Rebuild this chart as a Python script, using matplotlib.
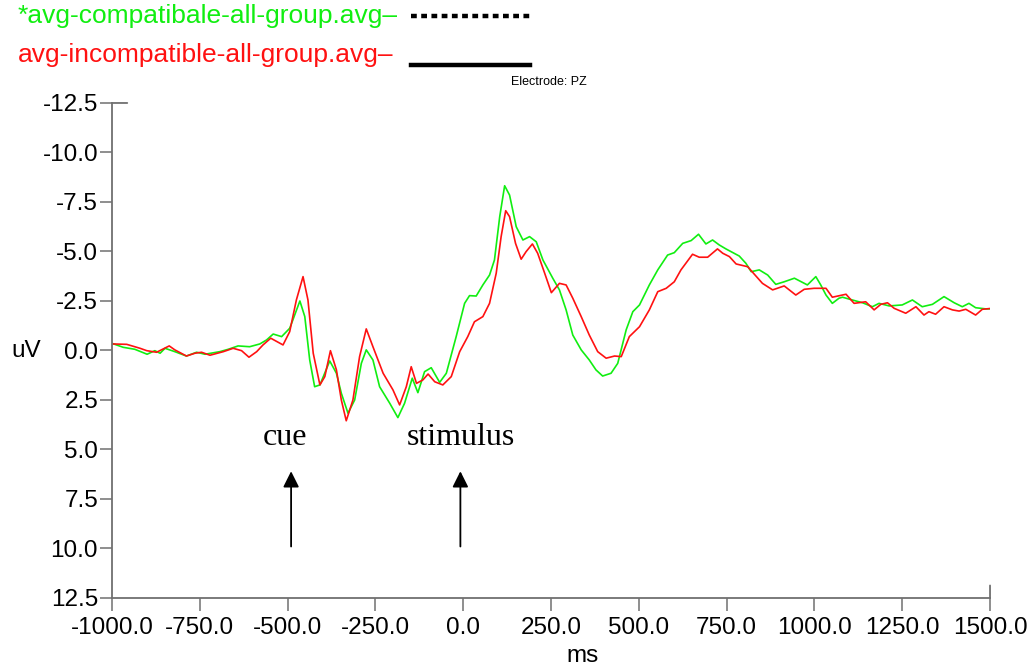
import numpy as np
import matplotlib.pyplot as plt

# ERP at electrode PZ (ms, uV)
t_incomp = [-1000, -958, -920, -901, -873, -837, -821, -788, -764, -745, -721, -683, -655, -631,
            -610, -588, -570, -548, -513, -494, -475, -456, -442, -427, -408, -394, -378, -361,
            -347, -333, -314, -295, -276, -257, -228, -200, -181, -162, -148, -133, -115, -100,
            -81, -58, -34, -10, 13, 32, 56, 75, 94, 108, 121, 132, 149, 165, 179, 197, 212, 232,
            251, 274, 293, 312, 336, 359, 383, 407, 431, 450, 473, 502, 530, 554, 578, 601, 620,
            653, 672, 696, 724, 739, 758, 777, 810, 829, 852, 881, 914, 947, 971, 999, 1033,
            1051, 1090, 1113, 1146, 1170, 1189, 1208, 1227, 1260, 1289, 1312, 1326, 1345, 1369,
            1393, 1412, 1431, 1459, 1478, 1500]
v_incomp = [-0.33, -0.31, -0.11, 0.01, 0.09, -0.23, -0.03, 0.28, 0.14, 0.09, 0.24, 0.06, -0.11,
            0.01, 0.34, 0.06, -0.28, -0.62, -0.28, -0.95, -2.55, -3.73, -2.55, 0.14, 1.74, 1.32,
            0.01, 0.98, 2.5, 3.55, 2.5, 0.31, -1.09, -0.19, 1.15, 1.99, 2.75, 1.83, 0.82, 1.66,
            1.49, 1.19, 1.58, 1.74, 1.32, 0.06, -0.70, -1.45, -1.71, -2.38, -3.90, -5.75, -7.06,
            -6.76, -5.41, -4.61, -4.99, -5.38, -4.91, -3.90, -2.92, -3.39, -3.31, -2.64, -1.71,
            -0.78, 0.06, 0.39, 0.28, 0.31, -0.70, -1.20, -2.05, -2.97, -3.14, -3.47, -4.07, -4.86,
            -4.71, -4.71, -5.13, -4.91, -4.74, -4.37, -4.23, -3.85, -3.39, -3.06, -3.26, -2.80,
            -3.09, -3.14, -3.14, -2.69, -2.84, -2.38, -2.46, -2.05, -2.33, -2.41, -2.13, -1.88,
            -2.21, -1.79, -1.96, -1.83, -2.21, -2.05, -1.99, -2.08, -1.79, -2.08, -2.12]

t_comp = [-1000, -968, -935, -900, -878, -863, -849, -821, -788, -759, -735, -693, -669, -641,
          -608, -579, -560, -541, -517, -494, -485, -465, -451, -437, -423, -408, -380, -361,
          -347, -328, -309, -290, -276, -257, -238, -209, -186, -167, -145, -129, -110, -91,
          -67, -48, -20, 4, 18, 37, 56, 75, 89, 104, 118, 132, 151, 170, 189, 208, 227, 255,
          274, 293, 312, 336, 359, 378, 397, 421, 440, 464, 483, 502, 530, 554, 582, 601, 625,
          649, 670, 691, 710, 729, 748, 786, 805, 820, 843, 867, 890, 914, 943, 980, 1004,
          1018, 1033, 1051, 1070, 1080, 1108, 1137, 1165, 1184, 1213, 1250, 1279, 1307, 1336,
          1369, 1398, 1421, 1440, 1459, 1488, 1500]
v_comp = [-0.36, -0.16, -0.06, 0.19, 0.01, 0.14, -0.11, 0.06, 0.28, 0.09, 0.19, 0.06, -0.06,
          -0.23, -0.19, -0.33, -0.53, -0.83, -0.70, -1.12, -1.54, -2.50, -1.71, 0.48, 1.83,
          1.74, 0.53, 1.15, 2.16, 3.17, 2.50, 0.65, -0.03, 0.48, 1.83, 2.67, 3.39, 2.67, 1.40,
          2.13, 1.07, 0.87, 1.61, 1.15, -0.70, -2.38, -2.77, -2.75, -3.31, -3.81, -4.57, -6.76,
          -8.32, -7.85, -6.25, -5.58, -5.75, -5.49, -4.57, -3.65, -3.06, -2.05, -0.78, -0.03,
          0.48, 0.98, 1.29, 1.15, 0.65, -1.04, -1.96, -2.30, -3.31, -4.07, -4.82, -4.94, -5.41,
          -5.55, -5.87, -5.38, -5.58, -5.33, -5.13, -4.77, -4.40, -3.98, -4.07, -3.81, -3.34,
          -3.47, -3.65, -3.31, -3.73, -3.31, -2.80, -2.38, -2.64, -2.69, -2.55, -2.41, -2.21,
          -2.38, -2.25, -2.30, -2.55, -2.21, -2.33, -2.72, -2.41, -2.21, -2.38, -2.16, -2.10, -2.10]

x_ticks = [-1000, -750, -500, -250, 0, 250, 500, 750, 1000, 1250, 1500]
y_ticks = [-12.5, -10.0, -7.5, -5.0, -2.5, 0.0, 2.5, 5.0, 7.5, 10.0, 12.5]
events = [("cue", -490), ("stimulus", -8)]

GREEN = "#11ee11"
RED = "#ff1111"
AXC = "#707070"

plt.rcParams['font.family'] = ['Liberation Sans', 'DejaVu Sans']

fig = plt.figure(figsize=(10.33, 6.70), dpi=100)
ax = fig.add_axes([0.1084, 0.1075, 0.8500, 0.7388])

ax.plot(t_comp, v_comp, color=GREEN, lw=1.2)
ax.plot(t_incomp, v_incomp, color=RED, lw=1.2)

ax.set_xlim(-1000, 1500)
ax.set_ylim(12.5, -12.5)  # negative up
ax.set_xticks(x_ticks)
ax.set_xticklabels([f"{x:.1f}" for x in x_ticks])
ax.set_yticks(y_ticks)
ax.set_yticklabels([f"{y:.1f}" for y in y_ticks])

for s in ["top", "right"]:
    ax.spines[s].set_visible(False)
for s in ["left", "bottom"]:
    ax.spines[s].set_color(AXC)
    ax.spines[s].set_linewidth(1.3)
ax.tick_params(length=9, width=1.1, color=AXC, labelsize=17.5)
ax.tick_params(axis='y', pad=1)
ax.tick_params(axis='x', pad=5)

# extra tick stubs at the axis ends
stub = dict(arrowstyle='-', color=AXC, lw=1.3, shrinkA=0, shrinkB=0)
ax.annotate('', xy=(0, 1), xycoords='axes fraction', xytext=(11, 0),
            textcoords='offset points', arrowprops=stub)
ax.annotate('', xy=(1, 0), xycoords='axes fraction', xytext=(0, 9),
            textcoords='offset points', arrowprops=stub)

fig.text(0.025, 0.476, "uV", fontsize=17.5, ha='center', va='center')
fig.text(0.564, 0.021, "ms", fontsize=17.5, ha='center', va='center')

for name, tx in events:
    ax.annotate('', xy=(tx, 6.1), xytext=(tx, 9.9),
                arrowprops=dict(arrowstyle='-|>', color='black', lw=1.3,
                                mutation_scale=24, shrinkA=0, shrinkB=0))
    ax.text(tx - 18 if name == "cue" else tx, 4.4, name, ha='center', va='center',
            fontsize=23, family=['Liberation Serif', 'DejaVu Serif'])

# legend block at the top
fig.text(0.017, 0.976, "*avg-compatibale-all-group.avg\u2013", color=GREEN,
         fontsize=19, va='center')
fig.text(0.017, 0.918, "avg-incompatible-all-group.avg\u2013", color=RED,
         fontsize=19, va='center')
fig.add_artist(plt.Line2D([0.398, 0.513], [0.976, 0.976], color='black', lw=3.2,
                          linestyle=(0, (1.3, 1.0)), transform=fig.transFigure))
fig.add_artist(plt.Line2D([0.398, 0.513], [0.903, 0.903], color='black', lw=3.2,
                          transform=fig.transFigure))
fig.text(0.495, 0.878, "Electrode: PZ", fontsize=9, va='center')

fig.savefig("out.png", dpi=100)
